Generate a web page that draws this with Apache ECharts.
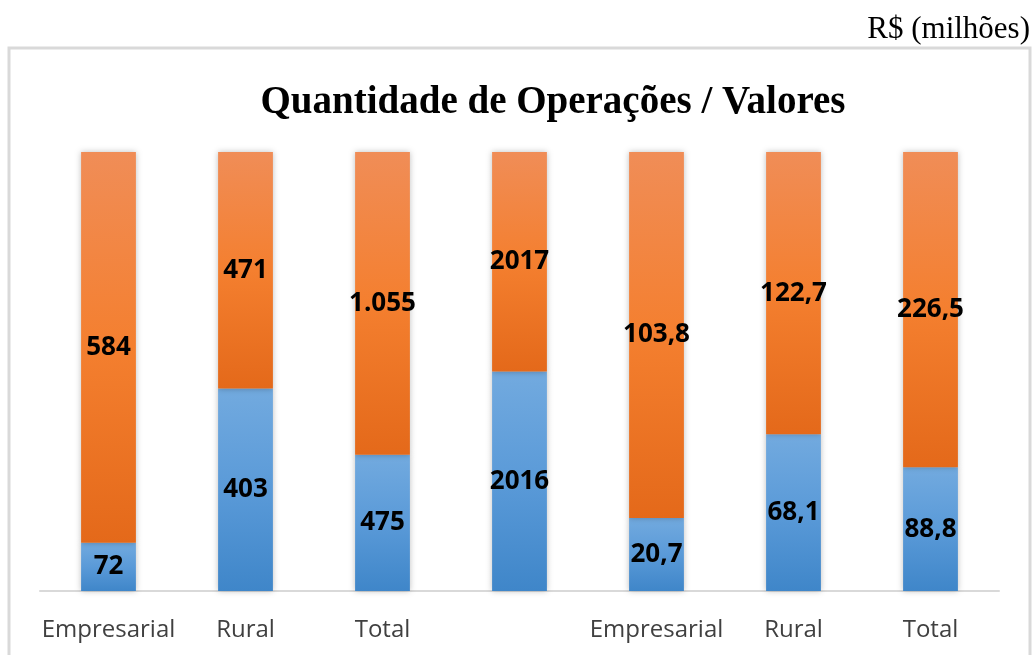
<!DOCTYPE html>
<html>
<head>
<meta charset="utf-8">
<title>Quantidade de Operações / Valores</title>
<script src="https://cdn.jsdelivr.net/npm/echarts@6/dist/echarts.min.js"></script>
<style>
  html, body { margin: 0; padding: 0; background: #fff; }
  #chart { width: 1032px; height: 655px; }
</style>
</head>
<body>
<div id="chart"></div>
<script>
// dados do grafico
var categories = ['Empresarial', 'Rural', 'Total', '', 'Empresarial', 'Rural', 'Total'];
var blueValues = [72, 403, 475, 2016, 20.7, 68.1, 88.8];
var orangeValues = [584, 471, 1055, 2017, 103.8, 122.7, 226.5];
var blueLabels = ['72', '403', '475', '2016', '20,7', '68,1', '88,8'];
var orangeLabels = ['584', '471', '1.055', '2017', '103,8', '122,7', '226,5'];

// 100% empilhado: cada barra vira participacao percentual
var bluePct = blueValues.map(function (v, i) { return v / (v + orangeValues[i]) * 100; });
var orangePct = orangeValues.map(function (v, i) { return v / (blueValues[i] + v) * 100; });

var chart = echarts.init(document.getElementById('chart'));

var labelStyle = {
  show: true,
  position: 'inside',
  color: '#000',
  fontFamily: 'Open Sans',
  fontWeight: 'bold',
  fontSize: 26
};

function grad(c1, c2, c3) {
  return new echarts.graphic.LinearGradient(0, 0, 0, 1, [
    { offset: 0, color: c1 },
    { offset: 0.5, color: c2 },
    { offset: 1, color: c3 }
  ]);
}

var option = {
  backgroundColor: '#ffffff',
  animation: false,
  title: {
    text: 'Quantidade de Operações / Valores',
    left: 548,
    textAlign: 'center',
    top: 78,
    textStyle: {
      fontFamily: 'Liberation Serif',
      fontWeight: 'bold',
      fontSize: 39,
      color: '#000'
    }
  },
  graphic: [
    {
      type: 'rect',
      shape: { x: 9, y: 48, width: 1021, height: 640 },
      style: { fill: 'none', stroke: '#d9d9d9', lineWidth: 3 },
      z: -1
    },
    {
      type: 'text',
      right: 2,
      top: 14,
      style: {
        text: 'R$ (milhões)',
        font: '31px "Liberation Serif"',
        fill: '#000'
      }
    }
  ],
  grid: {
    left: 40,
    right: 33,
    top: 152,
    bottom: 64
  },
  xAxis: {
    type: 'category',
    data: categories,
    axisLine: { lineStyle: { color: '#d9d9d9', width: 2 } },
    axisTick: { show: false },
    axisLabel: {
      color: '#404040',
      fontFamily: 'Open Sans',
      fontSize: 24,
      margin: 27,
      interval: 0
    }
  },
  yAxis: {
    type: 'value',
    min: 0,
    max: 100,
    show: false
  },
  series: [
    {
      name: 'azul',
      type: 'bar',
      stack: 'total',
      barWidth: '40%',
      data: bluePct,
      itemStyle: {
        color: grad('#72aadf', '#5a9ad8', '#3f86c9'),
        shadowBlur: 6,
        shadowColor: 'rgba(0,0,0,0.25)'
      },
      label: Object.assign({}, labelStyle, {
        formatter: function (p) { return blueLabels[p.dataIndex]; }
      })
    },
    {
      name: 'laranja',
      type: 'bar',
      stack: 'total',
      barWidth: '40%',
      data: orangePct,
      itemStyle: {
        color: grad('#f08d57', '#f47f2f', '#e4691a'),
        shadowBlur: 6,
        shadowColor: 'rgba(0,0,0,0.25)'
      },
      label: Object.assign({}, labelStyle, {
        formatter: function (p) { return orangeLabels[p.dataIndex]; }
      })
    }
  ]
};

chart.setOption(option);
</script>
</body>
</html>
